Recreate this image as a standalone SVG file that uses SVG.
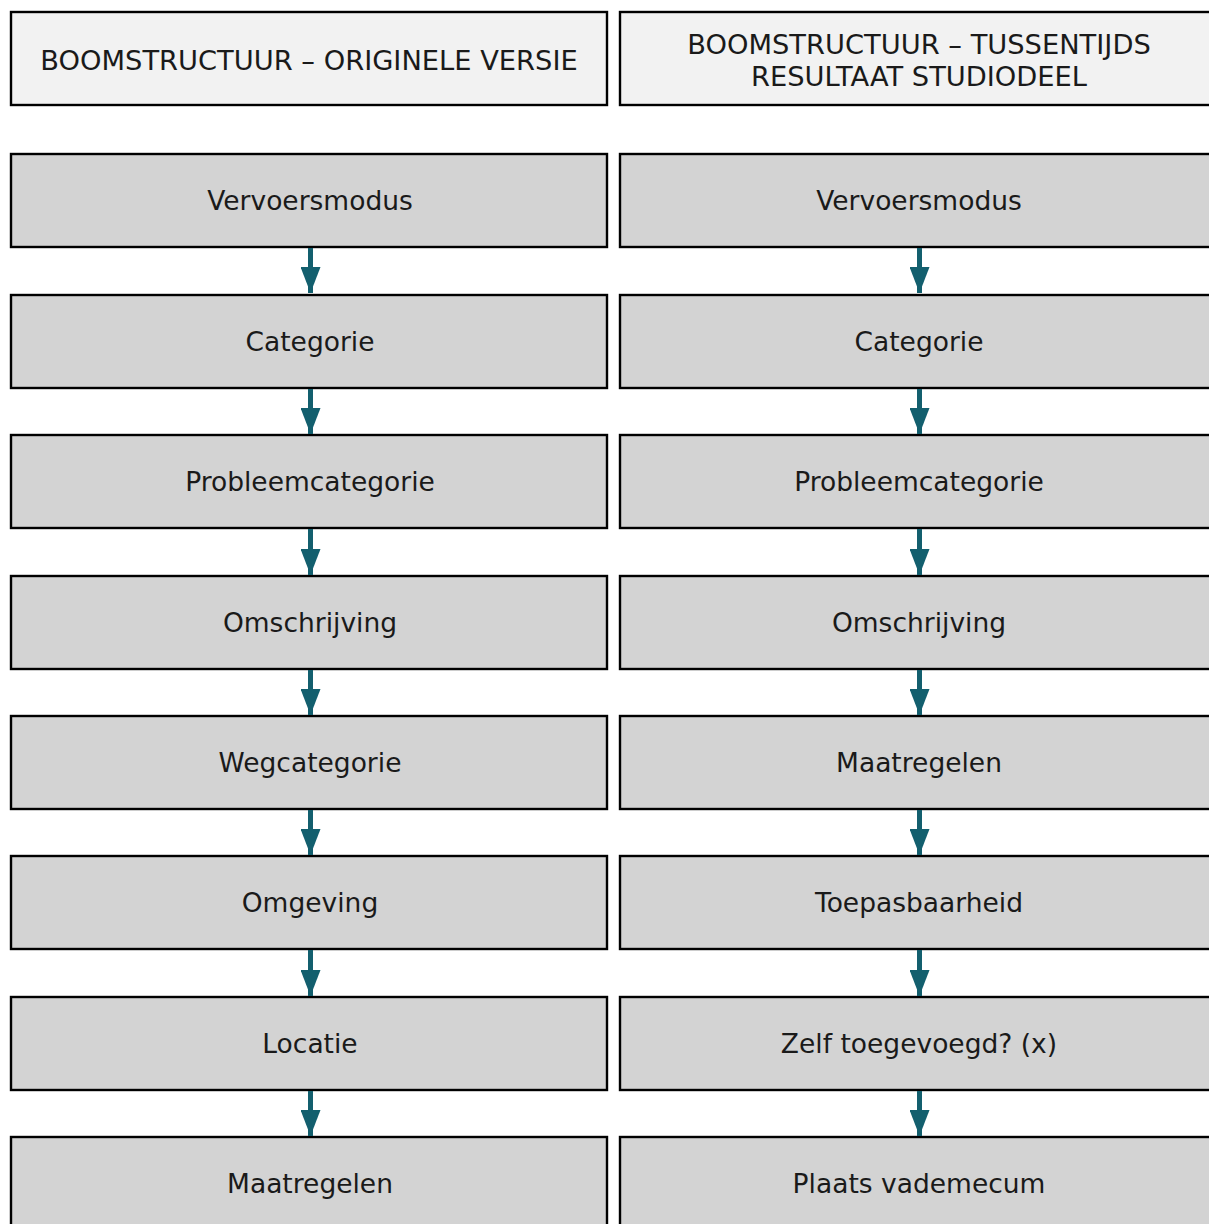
<svg xmlns="http://www.w3.org/2000/svg" width="1209" height="1224" viewBox="0 0 1209 1224">
<defs>
<style>
.hdr{fill:#f2f2f2;stroke:#000;stroke-width:2.4}
.box{fill:#d3d3d3;stroke:#000;stroke-width:2.4}
text{font-family:"DejaVu Sans",Verdana,sans-serif;font-size:26.5px;fill:#1a1a1a;text-anchor:middle}
.h{font-size:27.3px}
.arr{stroke:#135f6e;stroke-width:5;fill:none}
</style>
<marker id="ahd" viewBox="0 0 20 26" refX="10" refY="26" markerWidth="20" markerHeight="26" markerUnits="userSpaceOnUse" orient="0">
<path d="M0,0 L20,0 L10,26 Z" fill="#135f6e"/>
</marker>
</defs>
<rect width="1209" height="1224" fill="#fff"/>
<g id="h1"><rect class="hdr" x="11" y="12" width="596" height="93"/><text class="h" x="309" y="70">BOOMSTRUCTUUR – ORIGINELE VERSIE</text></g>
<g id="h2"><rect class="hdr" x="620" y="12" width="597" height="93"/><text class="h" x="919" y="54">BOOMSTRUCTUUR – TUSSENTIJDS</text><text class="h" x="919" y="86">RESULTAAT STUDIODEEL</text></g>
<g id="l1"><rect class="box" x="11" y="154" width="596" height="93"/><text x="310" y="210">Vervoersmodus</text></g>
<g id="l2"><rect class="box" x="11" y="295" width="596" height="93"/><text x="310" y="351">Categorie</text></g>
<g id="l3"><rect class="box" x="11" y="435" width="596" height="93"/><text x="310" y="491">Probleemcategorie</text></g>
<g id="l4"><rect class="box" x="11" y="576" width="596" height="93"/><text x="310" y="632">Omschrijving</text></g>
<g id="l5"><rect class="box" x="11" y="716" width="596" height="93"/><text x="310" y="772">Wegcategorie</text></g>
<g id="l6"><rect class="box" x="11" y="856" width="596" height="93"/><text x="310" y="912">Omgeving</text></g>
<g id="l7"><rect class="box" x="11" y="997" width="596" height="93"/><text x="310" y="1053">Locatie</text></g>
<g id="l8"><rect class="box" x="11" y="1137" width="596" height="93"/><text x="310" y="1193">Maatregelen</text></g>
<g id="r1"><rect class="box" x="620" y="154" width="597" height="93"/><text x="919" y="210">Vervoersmodus</text></g>
<g id="r2"><rect class="box" x="620" y="295" width="597" height="93"/><text x="919" y="351">Categorie</text></g>
<g id="r3"><rect class="box" x="620" y="435" width="597" height="93"/><text x="919" y="491">Probleemcategorie</text></g>
<g id="r4"><rect class="box" x="620" y="576" width="597" height="93"/><text x="919" y="632">Omschrijving</text></g>
<g id="r5"><rect class="box" x="620" y="716" width="597" height="93"/><text x="919" y="772">Maatregelen</text></g>
<g id="r6"><rect class="box" x="620" y="856" width="597" height="93"/><text x="919" y="912">Toepasbaarheid</text></g>
<g id="r7"><rect class="box" x="620" y="997" width="597" height="93"/><text x="919" y="1053">Zelf toegevoegd? (x)</text></g>
<g id="r8"><rect class="box" x="620" y="1137" width="597" height="93"/><text x="919" y="1193">Plaats vademecum</text></g>
<g id="connectors" class="arr">
<path d="M310.5,248 V293" marker-end="url(#ahd)"/>
<path d="M310.5,389 V434" marker-end="url(#ahd)"/>
<path d="M310.5,529 V575" marker-end="url(#ahd)"/>
<path d="M310.5,670 V715" marker-end="url(#ahd)"/>
<path d="M310.5,810 V855" marker-end="url(#ahd)"/>
<path d="M310.5,950 V996" marker-end="url(#ahd)"/>
<path d="M310.5,1091 V1136" marker-end="url(#ahd)"/>
<path d="M919.5,248 V293" marker-end="url(#ahd)"/>
<path d="M919.5,389 V434" marker-end="url(#ahd)"/>
<path d="M919.5,529 V575" marker-end="url(#ahd)"/>
<path d="M919.5,670 V715" marker-end="url(#ahd)"/>
<path d="M919.5,810 V855" marker-end="url(#ahd)"/>
<path d="M919.5,950 V996" marker-end="url(#ahd)"/>
<path d="M919.5,1091 V1136" marker-end="url(#ahd)"/>
</g>
</svg>
